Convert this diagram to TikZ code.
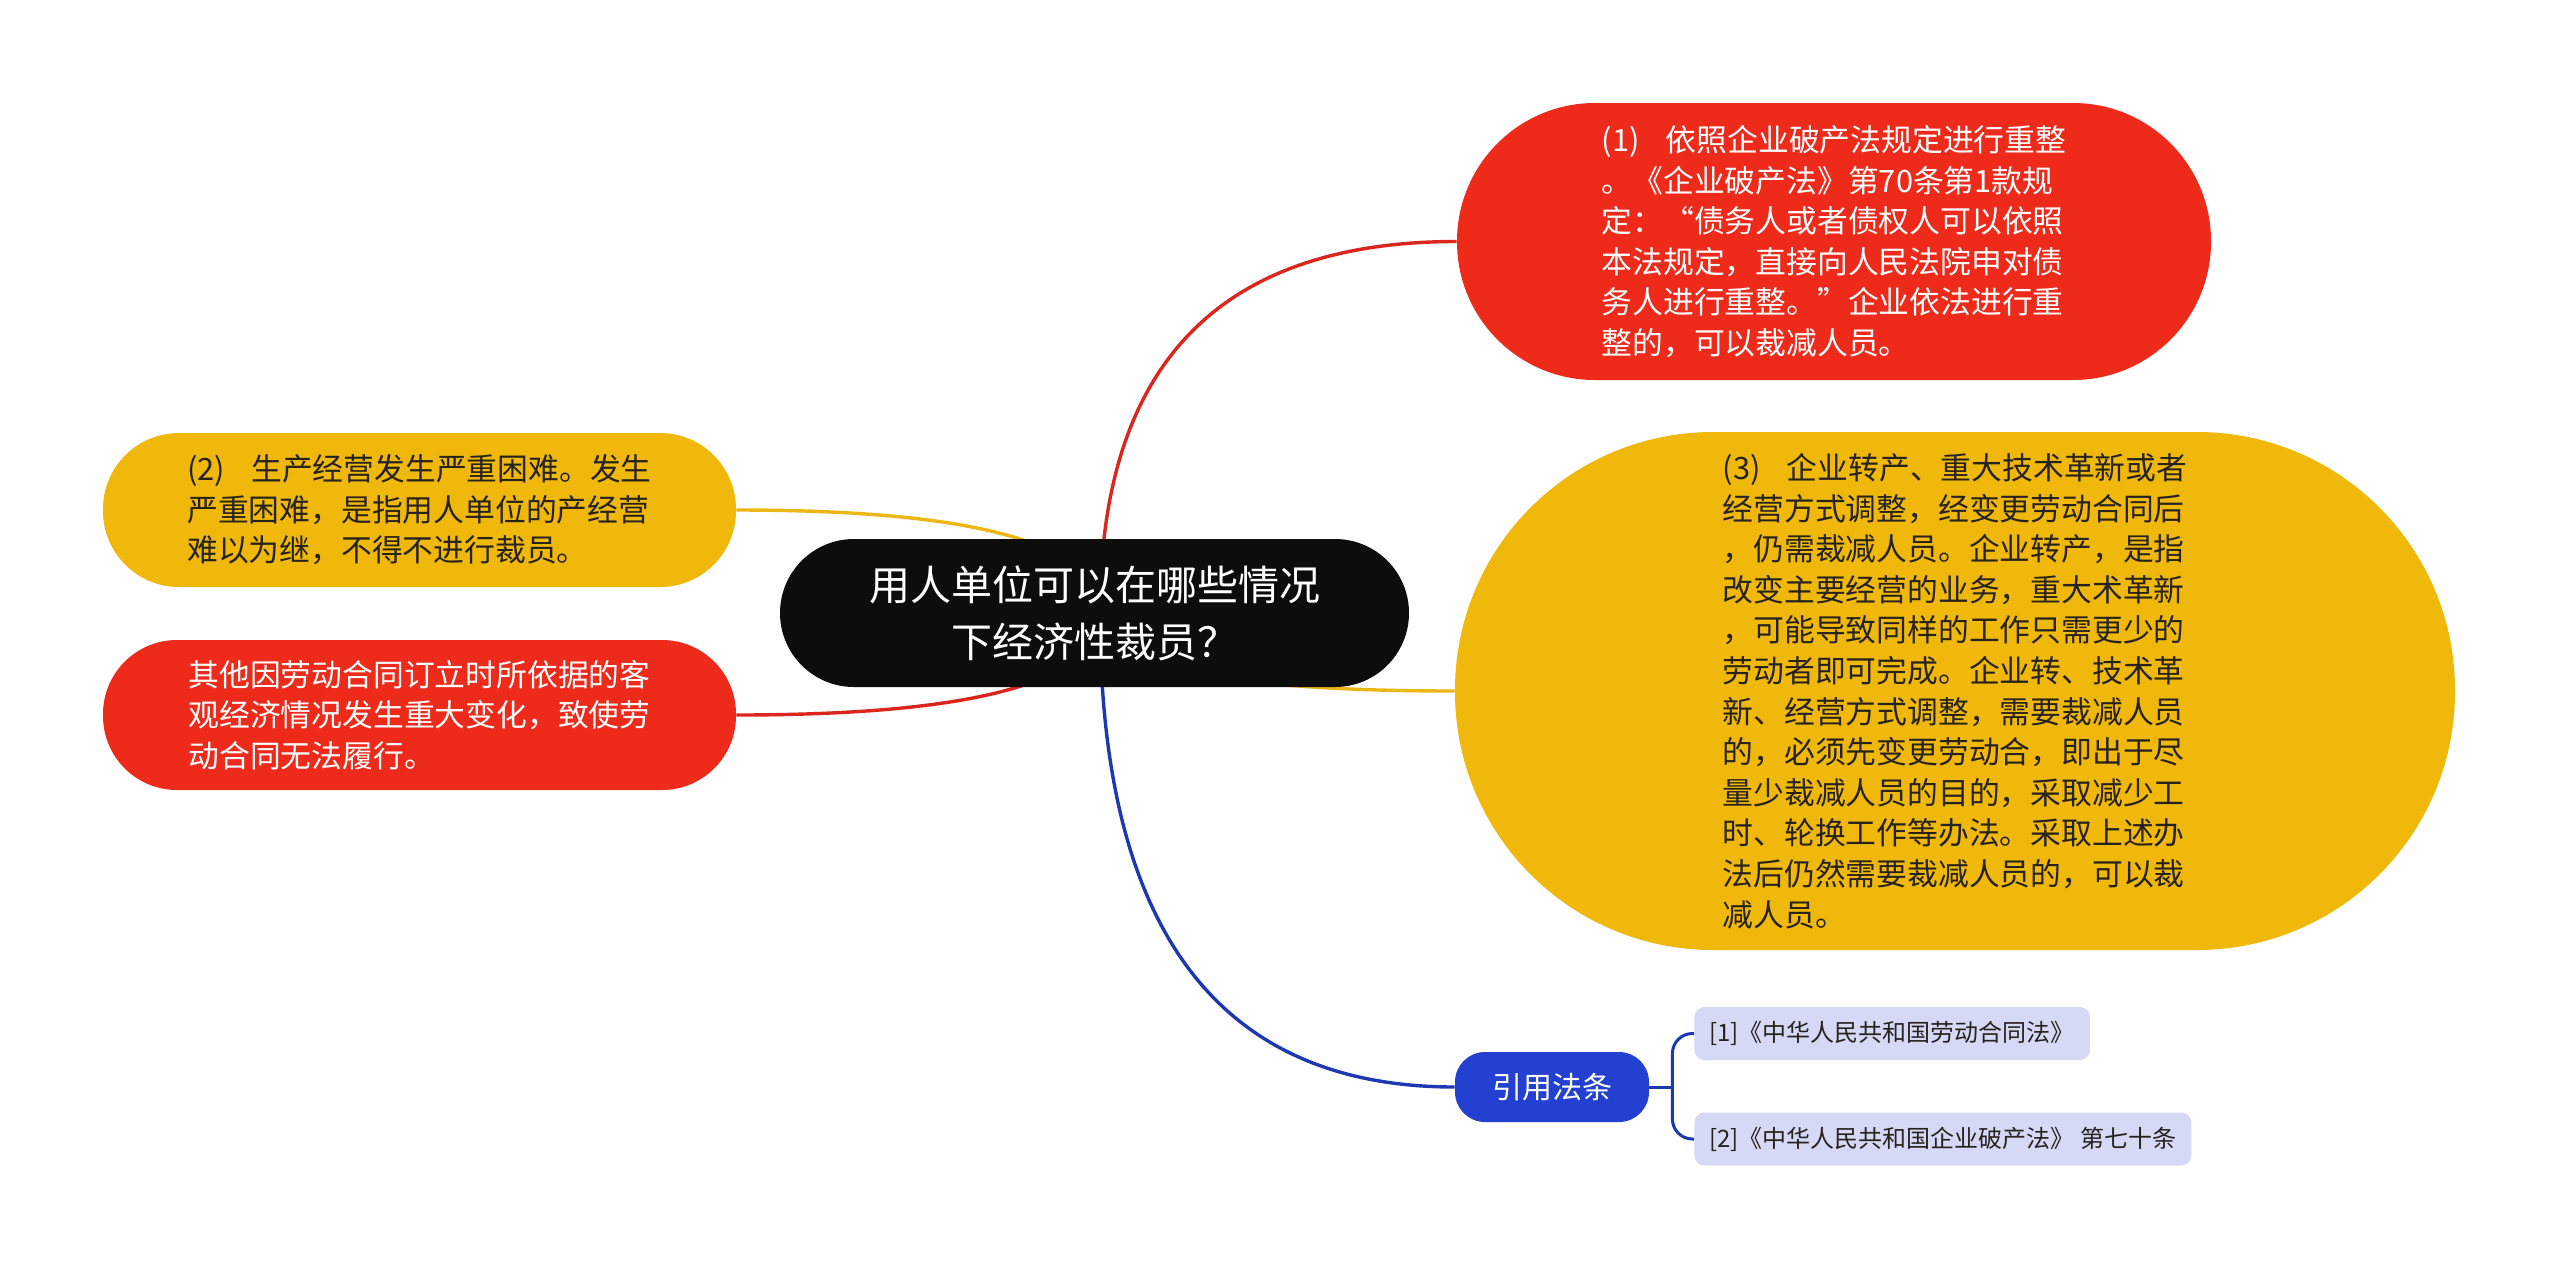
\documentclass[tikz,border=0pt]{standalone}
\usepackage{fontspec}
\setmainfont{Noto Sans CJK SC}
\usetikzlibrary{calc}
\pgfdeclarelayer{bg}
\pgfsetlayers{bg,main}
\definecolor{mred}{RGB}{238,42,27}
\definecolor{mredline}{RGB}{218,38,28}
\definecolor{myel}{RGB}{239,184,11}
\definecolor{myelline}{RGB}{236,183,20}
\definecolor{mblack}{RGB}{13,13,13}
\definecolor{mblue}{RGB}{35,64,208}
\definecolor{mblueline}{RGB}{30,56,178}
\definecolor{mlav}{RGB}{213,217,245}
\definecolor{mtext}{RGB}{38,34,28}
\newcommand\mmcurve[3]{\draw[#1] (#2) .. controls ($(#2)!0.667!(#2 |- #3)$) and ($(#3)!0.667!(#2 |- #3)$) .. (#3);}
\newcommand\numgap{\hspace{0.85em}}
\tikzset{
  box/.style={inner sep=0pt, align=left, font=\fontsize{15.4}{20.3}\selectfont},
  mainnode/.style={fill=mblack, text=white, inner sep=0pt, align=center,
    minimum width=314.5pt, minimum height=74pt, rounded corners=37pt,
    font=\fontsize{20.5}{28.5}\selectfont},
  citenode/.style={fill=mblue, text=white, inner sep=0pt, minimum width=97pt,
    minimum height=35pt, rounded corners=15pt, font=\fontsize{15}{18}\selectfont},
  refnode/.style={fill=mlav, text=mtext, inner xsep=7.5pt, inner ysep=0pt,
    minimum height=26.5pt, rounded corners=5pt, anchor=west,
    font=\fontsize{12}{14}\selectfont},
  link/.style={line width=1.7pt},
  bracket/.style={line width=1.5pt, draw=mblueline, rounded corners=10pt}
}
\begin{document}
\begin{tikzpicture}[x=0.5pt, y=-0.5pt]
\useasboundingbox (0,0) rectangle (2560,1270);

\node[mainnode] (c) at (1094.5,613) {用人单位可以在哪些情况\\下经济性裁员？};
\coordinate (o) at (1100,613);

\node[box, fill=mred, text=white, minimum width=377pt, minimum height=138.5pt,
  rounded corners=69pt] (n1) at (1834,241.5)
  {(1)\numgap 依照企业破产法规定进行重整\\。《企业破产法》第70条第1款规\\定：“债务人或者债权人可以依照\\本法规定，直接向人民法院申对债\\务人进行重整。”企业依法进行重\\整的，可以裁减人员。};

\node[box, fill=myel, text=mtext, minimum width=500pt, minimum height=259pt,
  rounded corners=129pt] (n3) at (1955,691)
  {(3)\numgap 企业转产、重大技术革新或者\\经营方式调整，经变更劳动合同后\\，仍需裁减人员。企业转产，是指\\改变主要经营的业务，重大术革新\\，可能导致同样的工作只需更少的\\劳动者即可完成。企业转、技术革\\新、经营方式调整，需要裁减人员\\的，必须先变更劳动合，即出于尽\\量少裁减人员的目的，采取减少工\\时、轮换工作等办法。采取上述办\\法后仍然需要裁减人员的，可以裁\\减人员。};

\node[box, fill=myel, text=mtext, minimum width=316.5pt, minimum height=77pt,
  rounded corners=38pt] (n2) at (419.5,510)
  {(2)\numgap 生产经营发生严重困难。发生\\严重困难，是指用人单位的产经营\\难以为继，不得不进行裁员。};

\node[box, fill=mred, text=white, minimum width=316.5pt, minimum height=75pt,
  rounded corners=37pt] (n4) at (419.5,715)
  {其他因劳动合同订立时所依据的客\\观经济情况发生重大变化，致使劳\\动合同无法履行。};

\node[citenode] (cb) at (1552,1087) {引用法条};
\node[refnode] (r1) at (1694,1033.5) {[1]《中华人民共和国劳动合同法》};
\node[refnode] (r2) at (1694,1139) {[2]《中华人民共和国企业破产法》 第七十条};

\begin{pgfonlayer}{bg}
\fill[white] (0,0) rectangle (2560,1270);
\mmcurve{link, draw=mredline}{o}{n1.west}
\mmcurve{link, draw=myelline}{o}{n2.east}
\mmcurve{link, draw=mredline}{o}{n4.east}
\mmcurve{link, draw=myelline}{o}{n3.west}
\mmcurve{link, draw=mblueline}{o}{cb.west}
\end{pgfonlayer}

\draw[bracket] (cb.east) -- ++(23,0) coordinate (bj);
\draw[bracket] (bj) |- (r1.west);
\draw[bracket] (bj) |- (r2.west);
\end{tikzpicture}
\end{document}
